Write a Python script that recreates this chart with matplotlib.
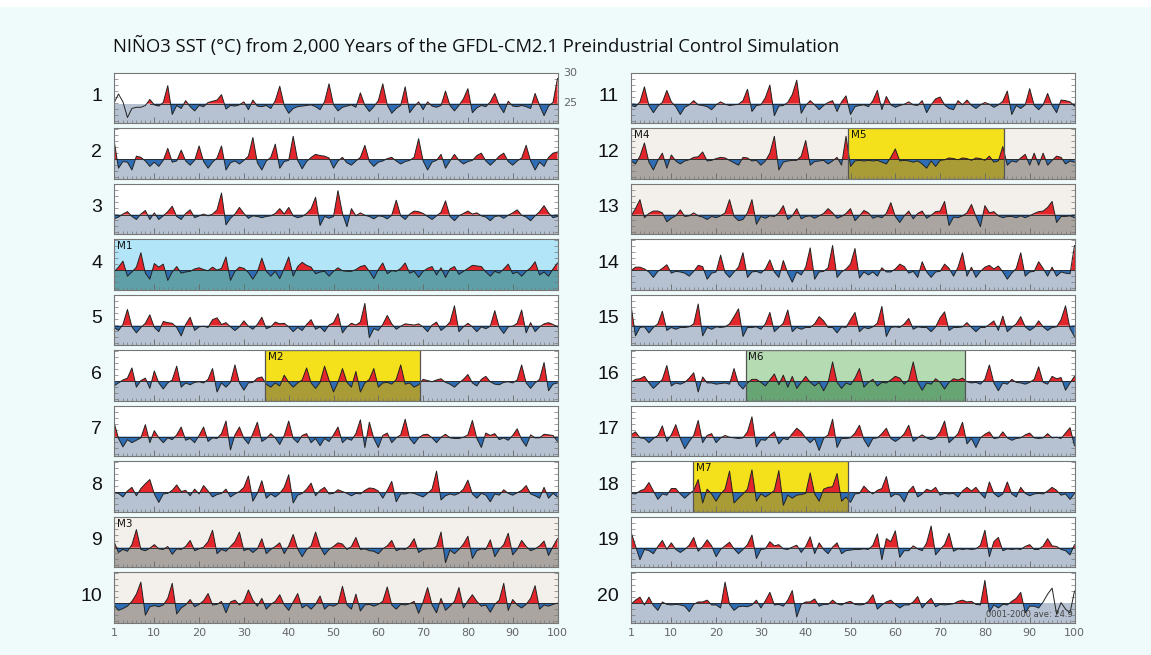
import numpy as np
import matplotlib
matplotlib.use('Agg')
import matplotlib.pyplot as plt
from matplotlib.patches import Rectangle

years = np.arange(1, 101)
clim = 24.9  # 0001-2000 mean NINO3 SST

# SST anomalies (degC from clim), one list per century
p01 = [0.1, 1.6, 0.3, -2.3, -0.8, -0.6, -0.6, -0.3, 0.7, -0.2, -0.4, 0.2, 3.0, -1.8, -0.3, -0.8, 0.5, -0.5, -1.2, -0.3,
       -0.5, 0.2, 0.4, 0.6, 1.5, -0.9, -0.3, -0.4, -0.2, 0.3, -1.0, 0.6, -0.4, -0.5, -0.3, -0.8, 0.5, 2.9, -0.3, -1.6,
       -0.8, -0.5, -0.4, -0.3, -0.2, -0.5, -1.0, 0.3, 3.3, -0.2, -1.2, -0.6, -0.4, -0.2, -0.6, 1.8, -0.3, -1.3, -0.5, 0.5,
       3.3, -0.2, -1.6, -0.8, -0.3, 2.8, -1.5, -0.5, 0.3, -1.0, 0.3, -0.4, -0.6, -0.3, 2.1, -0.3, -1.2, -0.3, 0.8, 2.5,
       -1.5, -0.7, -0.3, -0.5, 0.3, 1.7, -0.3, -1.5, 0.4, -0.4, -0.5, -0.3, -0.5, -0.8, 1.7, -0.3, -2.0, -0.4, 0.2, 4.2]
p02 = [3.2, -1.5, -0.4, -0.5, -1.8, 0.5, 0.3, -0.3, -1.2, -0.5, -1.2, -0.2, 1.8, -0.5, -0.3, 1.5, -0.3, -1.0, -0.2, 2.2,
       -0.4, -1.5, -0.5, 0.2, 2.2, -1.8, -0.6, -0.3, -0.8, -0.2, 0.5, 3.6, -0.6, -1.8, -0.3, 0.3, 2.5, -1.5, -0.4, -0.2,
       3.8, -0.2, -1.6, -0.4, 0.3, 0.8, 0.6, 0.5, 0.2, -1.5, -0.3, 0.3, -0.6, -1.0, -0.3, 0.3, 2.3, -0.4, -1.2, -0.5,
       -0.3, 0.1, 0.3, -0.3, -0.8, -0.4, -0.2, 0.3, 3.4, -0.3, -1.8, -0.5, -0.2, 0.8, -1.5, -0.3, 0.8, -0.2, -0.8, -0.4,
       -0.2, 0.6, 1.0, -0.3, -1.0, -0.3, 0.5, 1.0, -0.4, -1.0, -0.3, 0.2, 2.3, -0.3, -1.8, -0.5, -1.2, 0.3, 1.0, 1.2]
p03 = [-0.7, -0.4, 0.1, 0.5, -0.3, -0.8, 0.1, 0.7, -0.8, 0.3, -0.8, -0.2, 0.5, 1.4, -0.3, -0.8, 0.2, 0.8, -0.5, -0.2,
       0.1, -0.2, 0.1, 0.8, 3.6, -1.7, -0.6, 0.1, 1.2, 0.2, -0.6, -0.2, -0.3, -0.5, -0.3, -0.2, 0.2, 1.0, 0.1, 1.2,
       -0.2, -0.5, -0.3, 0.2, 1.0, 2.9, -1.8, -0.3, -0.6, -0.3, 4.0, 0.2, -2.0, 1.0, -0.2, 0.3, -0.1, -0.3, -0.7, -0.2,
       -0.3, -0.7, -0.1, 2.4, -0.2, -0.8, 0.1, 0.6, 0.5, 0.2, -0.3, -0.8, -0.2, 0.4, 2.3, -0.3, -1.0, -0.2, 0.2, 0.6,
       0.1, 0.3, -0.2, -0.4, -1.0, -0.3, -0.2, -0.6, -0.1, 0.3, 0.8, -0.1, -0.4, -1.0, -0.2, 0.5, 1.5, 0.3, -0.5, -0.3]
p04 = [-0.3, 0.5, 1.5, -1.0, -0.3, 0.5, 2.9, -0.5, -1.5, 1.1, 0.5, 1.0, -1.7, -0.3, 0.6, -0.5, -0.3, -0.2, 0.2, 0.4,
       0.1, -0.1, 0.5, 0.0, 0.3, 2.2, -1.7, -0.2, 0.5, 0.3, -0.4, -1.5, -0.3, 2.0, -0.2, -1.0, -0.2, -1.4, 0.3, 2.2,
       -1.0, 0.6, 1.3, 0.8, 0.5, -0.6, -0.3, -0.2, -1.0, -0.2, 0.4, -0.1, -0.2, -0.2, 0.1, 0.6, 0.8, -0.2, -1.4, 0.1,
       1.2, -0.6, -0.1, -0.2, 0.3, 1.2, -0.5, -0.2, -1.2, -0.2, 0.3, 0.6, -0.8, 0.4, -1.2, 0.2, 0.6, -0.7, -0.2, 0.3,
       0.8, 0.7, 0.6, -0.3, -1.0, -0.2, -0.5, 0.2, 1.0, -0.6, -0.3, -1.0, -0.2, 0.4, 1.4, -0.8, -0.3, -1.0, 0.2, 1.2]
p05 = [-0.3, -0.8, 0.2, 2.7, -0.2, -1.2, -0.3, 0.4, 1.8, -0.3, -1.0, 0.7, 0.5, 0.4, -0.3, -1.7, 0.2, 1.4, -0.8, -0.2,
       -0.1, -0.3, 1.0, 1.3, 0.2, 0.5, -0.2, -0.8, -0.2, 0.8, -0.1, -0.6, 0.2, 1.4, -0.5, -0.2, 0.6, 0.3, 0.4, -0.2,
       -1.0, -0.3, -0.8, 0.2, 1.0, -0.6, -0.2, -1.0, 0.1, 0.5, 2.0, -1.2, -0.2, 0.4, 0.1, 0.6, 3.7, -2.0, -0.5, -0.8,
       0.2, 1.7, 0.3, -0.6, -0.1, 0.3, 0.2, 0.1, 0.3, -0.2, -1.0, 0.1, 0.6, -0.8, -0.2, 0.6, 3.3, -1.0, -0.2, 0.4,
       -0.2, -1.0, -0.2, -0.5, -0.1, 2.5, -0.3, -1.3, -0.2, -0.1, 0.4, 2.6, -1.2, 0.5, -1.0, -0.2, 0.3, 0.5, 0.2, -0.2]
p06 = [-0.8, -0.3, 0.2, 0.5, 2.2, -1.0, 0.1, 0.5, -1.2, 1.7, -0.3, -1.3, -0.3, 0.2, 2.5, -1.0, -0.3, -0.6, -0.2, -0.1,
       -0.3, 0.3, 2.1, -1.8, -0.3, -1.0, -0.2, 2.7, -0.3, -1.5, -0.3, -0.2, 0.5, 0.7, -0.5, -1.0, -0.3, -0.8, 1.0, -0.2,
       -1.0, -0.3, 0.2, 2.2, -0.3, -1.2, -0.2, 2.5, 0.2, -1.8, -0.2, 2.1, -0.2, -1.0, 1.6, -1.8, -0.3, 0.3, 2.1, -1.0,
       -0.3, -0.2, -0.5, 0.3, 2.7, -0.5, -0.3, -1.0, -0.6, 0.3, 0.1, -0.1, 0.2, 0.4, -0.2, -0.5, -1.0, -0.3, 0.3, 1.1,
       -0.3, -0.8, 0.3, 0.8, -0.1, -0.5, -0.6, -0.2, -0.1, -0.3, 0.2, 2.7, -0.3, -1.2, -0.3, 0.3, 3.1, -1.6, -0.5, -0.3]
p07 = [2.4, -0.3, -1.7, -0.5, -1.0, -0.6, -0.2, 2.0, -1.0, 1.0, -0.2, -1.0, -0.2, -0.5, 0.3, 1.6, -0.6, -0.3, -1.0, 0.2,
       1.6, -0.8, -0.2, -0.3, 0.5, 2.6, -2.2, 0.3, 1.6, -0.3, -1.2, 0.5, 2.4, -0.8, -0.3, 0.5, -0.2, -1.3, 0.2, 2.6,
       -0.3, -1.0, 0.2, 0.5, -1.0, -0.3, -1.5, -0.3, -0.8, 0.3, 1.6, -1.0, -0.3, -0.6, 0.5, 2.8, -1.8, 2.4, -0.3, -1.8,
       0.2, 0.6, -1.0, -0.2, 0.3, 2.9, -0.3, -1.2, -0.2, 0.3, 0.4, -0.2, -1.0, -0.1, 0.4, -0.2, -0.3, -0.3, -0.1, 0.3,
       2.7, -0.3, -1.8, 0.6, 0.2, 0.5, -0.5, -0.2, -0.6, 0.2, 1.3, -0.5, -1.6, 0.3, -0.2, -0.2, 0.4, 0.3, 0.2, -0.8]
p08 = [-0.1, -0.2, -0.8, 0.2, 0.8, -0.6, 0.6, 1.4, 2.1, -0.3, -1.7, -0.3, -0.2, 0.3, 1.2, 0.1, 0.3, -0.6, 0.5, -0.3,
       1.1, 0.2, -0.8, -0.4, -0.2, 0.5, -0.8, -0.3, 0.1, 0.8, 2.7, -1.5, -0.2, 1.9, -1.0, -0.3, -0.8, -0.2, 0.8, 2.9,
       -1.8, -0.5, -0.2, 0.5, 1.5, -0.6, 0.3, 0.8, -0.3, -0.2, 0.4, 0.1, -0.2, -0.6, -0.2, -0.3, 0.3, 0.7, 0.6, 0.2,
       -1.0, 0.3, 1.8, -1.6, -0.3, -0.3, -0.1, -0.2, -0.5, -0.8, -0.2, 0.5, 3.5, -1.3, -0.6, -0.3, -0.5, -0.2, 0.5, 2.0,
       -0.3, -1.0, -0.2, -0.5, -1.6, -0.3, -0.5, 0.4, -0.2, -0.5, -0.1, 0.3, 1.1, -0.3, -0.6, -1.0, 0.8, -1.0, -0.2, -0.8]
p09 = [1.0, -0.8, -0.3, -0.6, 0.5, 3.0, -0.3, -0.5, -0.1, 0.5, -0.2, -0.3, 0.2, -1.1, -0.2, -0.3, 0.2, 1.2, -0.5, -0.2,
       0.1, 1.0, 2.9, -1.0, -0.3, -0.6, 0.2, 1.0, 2.6, -0.5, -0.2, -0.8, -0.2, 1.5, -1.0, -0.3, 0.2, 0.8, -1.0, 0.3,
       2.2, -0.2, -1.5, -0.3, 0.3, 2.6, 0.2, -1.2, -0.3, 0.2, 0.8, 0.6, -0.3, 0.2, 1.7, -0.3, -0.2, -0.5, -0.6, -1.0,
       -0.2, 0.3, 1.2, -0.5, -0.2, -0.3, 0.3, 1.5, -0.8, -0.3, -0.2, -0.2, 0.2, 2.6, -2.5, -0.4, -1.0, -0.3, 0.6, 1.9,
       -1.8, -0.5, -0.2, -0.3, 1.3, -1.5, -0.3, 0.5, 2.4, -1.2, -0.3, 1.2, 0.2, -0.5, -0.2, 0.3, 1.1, -1.3, 0.2, 1.5]
p10 = [-0.3, -1.2, -0.9, -0.5, 0.3, 1.5, 3.5, -2.0, -0.6, -0.4, -0.6, -0.3, 0.8, 3.3, -1.8, -0.8, -0.3, 0.6, -0.6, -0.2,
       0.4, 1.6, -0.3, -0.2, 0.3, -1.6, 0.2, 0.5, -0.3, 0.3, 2.2, 0.5, -0.5, 0.8, -1.0, -0.2, 0.3, 1.4, -0.3, -1.2,
       0.2, 1.6, -0.8, -0.3, -1.0, -0.2, 1.2, -1.0, -0.3, -0.5, -0.1, 2.8, -0.3, -1.0, 1.5, -1.3, -0.3, -0.2, -0.5, -0.2,
       0.3, 2.7, -0.3, -1.0, -0.2, -0.3, -0.1, 0.3, -1.7, 0.2, 2.6, -0.3, -1.6, 0.8, -1.2, -0.5, 0.3, 2.6, -0.8, 0.4,
       1.4, 0.3, -0.5, -0.3, -1.5, -0.2, 0.5, 3.3, -1.2, 0.6, -0.3, -0.8, -0.2, 0.8, 2.9, -1.0, -0.3, -0.5, -0.2, 0.0]
p11 = [-0.3, -0.5, 0.3, 2.8, -0.3, -1.5, -0.4, 0.2, 2.2, 0.3, -0.5, -1.8, -0.6, -0.2, 0.5, -0.2, -0.3, -0.5, -1.0, -0.2,
       0.3, -0.1, -0.3, -0.2, -0.1, 0.5, 2.4, -1.3, -0.3, -0.2, 1.0, 3.1, -2.0, -0.4, -0.3, 0.2, 1.5, 3.9, -1.6, -0.3,
       0.5, -0.2, -1.0, -0.3, 0.2, 0.5, -1.3, 0.3, 1.3, -1.8, -0.5, -0.3, -0.2, -0.5, 0.5, 2.2, -1.0, 1.2, -0.2, -0.6,
       -0.3, -0.1, 0.3, -0.2, -0.3, 0.5, -1.5, -0.2, 0.8, 1.1, -0.2, -0.8, -1.0, 0.5, -0.2, 0.6, -0.3, -0.8, -0.2, 0.2,
       -0.1, -0.6, -0.2, 0.4, 2.1, -1.8, -0.3, -0.8, -0.2, 2.5, -0.3, -1.0, -0.2, 1.7, -0.3, -1.5, 0.6, 0.5, 0.3, -0.4]
p12 = [-0.3, -0.8, 0.5, 2.7, -0.5, -1.8, -0.2, 1.0, -1.5, 0.7, -0.3, -0.8, -0.3, -0.1, 0.3, 0.4, 1.2, -0.3, -0.2, 0.1,
       0.3, 0.2, -0.2, -0.6, -1.0, 0.3, 0.2, -0.3, -0.2, -1.0, -0.3, 1.0, 3.8, -1.8, -0.5, -0.3, -0.2, -0.2, 0.5, 3.1,
       -1.0, -0.4, -0.3, -0.2, -0.8, -0.3, 0.3, -1.0, 3.8, -1.2, -0.3, -0.2, -0.3, -0.2, -0.3, -0.2, -0.5, -0.8, 0.3, 1.7,
       -0.3, -0.2, -0.3, -0.5, -0.3, -0.8, -1.5, -0.3, -1.2, -0.2, -0.1, 0.2, 0.1, -0.1, 0.2, 0.1, -0.2, 0.2, 0.1, -0.2,
       0.5, -0.5, -0.3, 2.1, -1.0, -0.3, -0.5, 0.2, 0.8, -1.0, 1.0, -1.0, 1.0, -1.0, -0.2, 0.5, 0.3, -0.8, -0.3, -0.5]
p13 = [-0.2, 1.0, 2.5, -0.5, 0.2, 0.6, 0.6, 0.3, -1.2, -0.6, -0.2, 0.8, -0.3, -0.2, 0.3, -0.2, -0.4, -0.8, -0.3, -0.5,
       -0.2, 0.3, 2.5, -0.3, -1.0, -0.8, 0.3, 2.5, -1.6, -0.3, -0.6, -0.2, -0.3, 0.3, 1.5, -0.8, -0.2, 1.0, -0.7, -0.3,
       -0.2, -0.6, -0.2, 0.2, 1.0, 0.3, -0.6, -0.3, 0.2, 1.0, -1.0, -0.2, 0.7, 0.3, -0.6, -0.3, -0.5, 0.2, 2.0, -0.3,
       -1.3, -0.2, 0.6, -0.7, 0.2, 0.6, -0.6, -0.1, 0.5, 0.6, 2.2, -1.8, -0.4, -0.5, -0.2, 0.3, 1.7, -0.3, -2.0, 1.5,
       0.3, 0.5, -0.2, -0.5, -0.3, -0.3, -0.5, -0.2, -0.5, -0.2, 0.2, 0.5, 0.6, 1.2, 2.2, -1.3, -0.3, -0.3, -0.2, -0.5]
p14 = [-0.1, 0.5, 0.5, 0.2, -0.3, -1.2, -0.2, 0.3, 0.9, -0.5, -0.2, -0.3, -0.5, -1.0, -0.2, 0.8, 0.6, -1.5, -0.5, -0.3,
       2.5, -0.4, -1.2, -0.3, 0.5, 2.9, -1.2, -0.3, -0.2, -0.5, 0.2, 1.7, -0.3, -1.2, 1.6, -0.5, -2.0, -0.3, -0.8, 0.5,
       3.7, -1.5, -0.3, -0.2, 0.4, 4.1, -1.2, -0.3, 0.2, 1.0, 3.6, -1.3, -0.3, -0.8, -0.3, -1.0, 0.4, -0.3, -0.3, 0.2,
       1.0, 0.6, -0.5, -0.2, -1.2, 1.4, -0.3, -1.2, -0.3, -0.2, 1.0, 0.3, -1.0, 0.5, 2.9, -1.0, 0.5, -1.2, -0.2, 0.5,
       0.8, 0.2, 0.7, -0.3, -1.5, -0.5, 0.3, 2.9, -1.0, -0.3, -0.2, 1.4, 0.3, -1.0, 0.5, -1.0, -0.3, -0.5, -0.6, 4.1]
p15 = [3.4, -1.7, -0.3, -0.2, -1.2, -0.3, 0.3, 2.4, -0.8, -0.3, -0.6, -0.3, -0.3, -0.2, 0.3, 3.6, -1.7, -0.3, -0.6, -0.2,
       -0.3, -0.2, 0.3, 1.5, 2.8, -1.8, -0.3, -0.3, -0.2, -0.6, 0.3, 2.2, -1.0, -0.3, 0.4, 2.6, -1.0, -0.3, -0.6, -0.3,
       -0.3, 0.3, 1.5, 0.8, -0.3, -0.3, -1.2, -0.2, -0.3, 1.0, 2.2, -1.0, -0.3, -0.5, -0.2, 0.4, 3.2, -1.8, -0.3, -0.2,
       -0.3, 0.3, 1.2, -0.6, -0.2, -0.3, -0.3, -1.0, -0.2, 1.3, 2.3, -0.8, -0.3, -0.3, -0.2, 0.5, -0.3, -1.0, -0.3, -0.3,
       0.2, 0.8, -0.8, 1.6, -1.0, -0.3, 0.3, 1.5, -0.2, -0.8, -0.3, 0.8, -0.2, -0.8, -0.3, -0.2, 1.0, 3.3, -0.5, -1.8]
p16 = [-0.2, 0.3, 0.4, 0.8, -0.3, -1.2, -0.5, 0.3, 2.6, -0.8, -0.3, -0.5, -0.2, 0.5, 1.4, -1.8, 0.7, -0.3, -0.3, -0.5,
       -0.4, -0.3, -0.5, 2.1, -0.5, -1.3, -0.3, 0.3, 0.3, -0.2, -0.8, 0.2, 1.2, -0.6, 1.0, -1.0, 0.8, -1.2, -0.2, 0.8,
       -0.2, -0.8, -0.2, -1.6, -0.2, 3.2, -0.2, -1.2, -0.3, -0.6, 0.5, 2.1, -1.0, -0.2, 0.3, -0.8, -0.2, -0.3, 0.2, 0.8,
       0.5, -0.5, 0.2, 3.2, -0.2, -1.5, -0.3, -0.5, 0.4, -0.2, -1.3, -0.2, 0.4, 0.2, 0.5, -0.1, -0.3, -0.2, -0.5, 0.3,
       2.7, -0.3, -1.6, -0.3, -0.5, 0.3, -0.2, -0.3, -0.5, -0.2, 0.3, 2.4, -0.2, -0.5, 0.8, 0.4, 0.6, -1.5, -0.3, 0.8]
p17 = [0.3, 0.8, -0.2, -0.3, -1.0, -0.3, 0.2, 1.8, -0.8, 0.3, 2.0, -0.3, -2.0, -0.8, 0.2, 2.7, -1.0, 0.2, 0.5, -1.0,
       -0.2, 0.2, -0.1, -0.2, -0.3, -0.2, 0.8, 3.3, -1.7, -0.5, -0.6, 0.2, 0.8, -1.2, -0.3, -0.5, 0.5, 1.4, 0.8, -0.2,
       -1.0, -0.3, -2.3, -0.3, 0.3, 2.9, -1.8, -0.3, -0.3, -0.2, 0.6, 1.9, -0.5, -1.7, -0.3, -0.2, 0.5, 1.4, -0.3, -0.8,
       -0.3, 0.5, 1.9, -0.8, -0.2, 0.3, -0.2, -0.5, -0.2, 0.8, 2.6, -1.0, -0.3, 0.5, 2.4, -1.2, -0.3, -1.8, -0.2, 0.4,
       0.8, -0.3, -0.2, 0.8, -0.2, -0.6, -0.3, -0.2, 0.3, 0.6, -0.2, -0.3, -0.2, 0.5, -0.2, -0.1, -0.3, 0.6, 1.5, -1.5]
p18 = [-0.2, -0.3, 0.2, 0.5, 1.6, 0.2, -1.2, -0.3, -0.5, 0.6, 0.6, -0.3, -1.0, -0.3, 0.3, 2.1, -1.8, 0.5, -0.3, -1.5,
       -0.3, 0.5, 3.5, -1.8, -1.0, -0.3, 0.5, 3.7, -1.5, -0.3, -0.8, -0.3, 0.3, 3.6, -2.2, -0.5, -1.0, -0.5, -0.4, -0.2,
       3.2, -0.3, -1.5, 0.5, 0.8, 0.9, 3.1, -1.5, -0.8, -1.7, -0.3, -0.2, 1.0, 0.2, -0.3, 0.3, 0.6, 2.6, -0.8, -0.3,
       -0.5, -1.6, 0.2, 1.0, -0.8, -0.3, 0.5, 0.2, 0.8, -0.5, -0.2, -0.3, -0.2, -0.8, 0.2, 0.8, 0.2, 0.8, -0.2, -1.0,
       1.7, -0.2, -0.8, -0.3, 1.7, -0.3, -0.8, 0.8, -0.2, -0.6, -0.3, -0.2, -0.3, 0.2, 0.8, 0.3, -0.5, -0.3, -1.2, -0.2]
p19 = [2.6, 0.3, -2.0, -0.3, -0.5, -1.0, 0.2, 1.2, -0.3, 0.8, -0.3, -0.8, -0.3, 0.4, 1.7, -0.6, 0.2, 1.3, 0.3, -1.5,
       -0.3, 0.3, 0.9, -0.2, -1.0, -0.3, 0.5, 2.1, -1.8, -0.3, -0.2, 1.0, 0.3, 0.5, -0.2, -0.3, 0.1, 0.4, -0.8, 0.2,
       1.8, -1.0, 0.8, -0.3, -1.0, 0.1, 0.8, -1.0, -0.5, -0.4, -0.3, -0.3, -0.2, -0.3, 0.4, 2.3, -2.0, 1.5, 1.0, 2.8,
       -1.6, -0.5, -0.5, 0.3, -0.2, -0.5, 0.8, 3.6, -1.2, -0.3, 0.5, 2.4, -0.6, -0.2, -0.3, -0.2, -0.3, -0.2, 0.4, 2.9,
       -1.5, 1.0, 1.7, -0.5, -0.2, -0.3, -0.2, -0.3, 0.2, 0.5, -0.3, -0.3, 0.3, 1.5, 0.3, 0.2, -0.3, -0.5, -1.2, 0.5]
p20 = [-0.2, 0.5, 1.0, -0.3, 1.0, -0.4, -1.2, 0.2, -0.2, -0.3, -0.2, -0.3, -0.5, -1.4, -0.2, 0.2, 0.2, 0.5, -0.3, -0.3,
       -0.8, 3.5, -0.2, -1.2, -0.6, -0.5, -0.6, -0.3, 0.5, -0.8, 0.4, 1.8, -0.3, -0.2, -0.5, 0.5, 2.1, -2.3, -0.2, 0.2,
       0.2, 0.7, -0.5, -0.2, -0.2, 0.5, -0.1, -0.3, 0.1, 0.3, -0.2, -0.3, -0.2, 0.3, 1.4, -1.0, -0.3, 0.2, 0.5, -0.2,
       -0.8, -0.3, -0.3, 0.2, 1.1, -0.8, 0.1, 0.8, -0.6, -0.2, -0.3, -0.2, -0.1, 0.3, 0.5, 0.2, 0.3, -0.2, -0.3, 3.8,
       -1.5, -0.3, -0.8, -0.2, -0.3, 0.3, 0.8, 1.8, -1.6, -0.5, -0.5, -0.8, 0.2, 1.5, 2.5, -1.8, 0.1, -1.0, -1.6, 2.0]
panels = [p01, p02, p03, p04, p05, p06, p07, p08, p09, p10,
          p11, p12, p13, p14, p15, p16, p17, p18, p19, p20]

# years shaded red/blue (outside: spin-up / end drawn as plain line)
filled = {1: (9, 100), 20: (1, 92)}

# highlighted periods: panel -> (first year, last year, kind, label)
periods = {
    4: [(1, 100, 'blue', 'M1')],
    6: [(34.7, 69.3, 'yellow', 'M2')],
    9: [(1, 100, 'beige', 'M3')],
    10: [(1, 100, 'beige', '')],
    12: [(1, 49.5, 'beige', 'M4'), (49.5, 84.2, 'yellow', 'M5'), (84.2, 100, 'beige', '')],
    13: [(1, 100, 'beige', '')],
    16: [(26.6, 75.6, 'green', 'M6')],
    18: [(14.8, 49.5, 'yellow', 'M7')],
}
shade = {  # upper, lower
    'none': ('white', '#b6c2d2'),
    'beige': ('#f3efea', '#aaa5a1'),
    'blue': ('#b2e5f7', '#5fa0a8'),
    'yellow': ('#f5e01c', '#a99c36'),
    'green': ('#b5dbb3', '#67a574'),
}
boxed = ['yellow', 'green']

W, H = 1151, 655
fig = plt.figure(figsize=(W / 100, H / 100), dpi=100)
fig.patch.set_facecolor('#effbfb')
# thin white strip along the top edge
fig.patches.append(Rectangle((0, 1 - 6 / H), 1, 6 / H, transform=fig.transFigure, color='white', zorder=0))

fig.text(113 / W, 1 - 46 / H, 'NIÑO3 SST (°C) from 2,000 Years of the GFDL-CM2.1 Preindustrial Control Simulation',
         fontsize=13.3, family='Open Sans', ha='left', va='center', color='#111')

ylo, yhi = 21.65, 30.05
for k, anom in enumerate(panels):
    num = k + 1
    col, row = divmod(k, 10)
    left = (114 if col == 0 else 631) / W
    width = 443.5 / W
    top = 72.7 + row * 55.5
    ax = fig.add_axes([left, 1 - (top + 50.5) / H, width, 50.5 / H])
    sst = clim + np.array(anom)

    # background: plain, then any highlighted periods
    up, lo = shade['none']
    ax.fill_between([1, 100], clim, yhi, color=up, lw=0, zorder=0)
    ax.fill_between([1, 100], ylo, clim, color=lo, lw=0, zorder=0)
    for x0, x1, kind, lab in periods.get(num, []):
        up, lo = shade[kind]
        ax.fill_between([x0, x1], clim, yhi, color=up, lw=0, zorder=0.5)
        ax.fill_between([x0, x1], ylo, clim, color=lo, lw=0, zorder=0.5)
        if kind in boxed:
            ax.add_patch(Rectangle((x0, ylo), x1 - x0, yhi - ylo, fill=False, ec='#555', lw=0.9, zorder=4))
        if lab:
            ax.text(x0 + 0.6, yhi - 0.35, lab, fontsize=7.5, ha='left', va='top', color='#111', zorder=5)

    y0, y1 = filled.get(num, (1, 100))
    inside = (years >= y0) & (years <= y1)
    ax.fill_between(years, clim, sst, where=inside & (sst >= clim), interpolate=True,
                    color='#e3262b', lw=0, zorder=2)
    ax.fill_between(years, clim, sst, where=inside & (sst <= clim), interpolate=True,
                    color='#2e6db3', lw=0, zorder=2)
    ax.plot([y0, y1], [clim, clim], color='#222', lw=0.6, zorder=3)
    ax.plot(years, sst, color='#222', lw=0.7, zorder=3)

    ax.set_xlim(1, 100)
    ax.set_ylim(ylo, yhi)
    ax.set_xticks([1] + list(range(10, 101, 10)))
    ax.set_xticks(years, minor=True)
    ax.set_yticks(np.arange(22, 31))
    ax.tick_params(axis='x', which='major', direction='in', length=4, width=0.6, color='#666', top=False,
                   labelsize=8, labelcolor='#666', pad=4)
    ax.tick_params(axis='x', which='minor', direction='in', length=2, width=0.5, color='#777', top=False)
    ax.tick_params(axis='y', direction='in', length=3, width=0.5, color='#777', left=True, right=True,
                   labelleft=False)
    if row != 9:
        ax.tick_params(axis='x', labelbottom=False)
    for sp in ax.spines.values():
        sp.set_color('#777')
        sp.set_linewidth(0.8)
        sp.set_zorder(6)

    ax.text(-12 / 443.5, 0.52, str(num), transform=ax.transAxes, fontsize=14, ha='right', va='center',
            family='Liberation Sans', color='#111')
    if num == 1:
        tr = ax.get_yaxis_transform()
        ax.text(1.012, 25, '25', transform=tr, fontsize=8, color='#666', va='center', ha='left')
        ax.text(1.012, 30, '30', transform=tr, fontsize=8, color='#666', va='center', ha='left')
    if num == 20:
        ax.text(0.995, 0.08, '0001-2000 ave: %.1f' % clim, transform=ax.transAxes, fontsize=6,
                color='#444', ha='right', va='bottom', zorder=5)

fig.savefig('out.png', dpi=100, facecolor=fig.get_facecolor())
